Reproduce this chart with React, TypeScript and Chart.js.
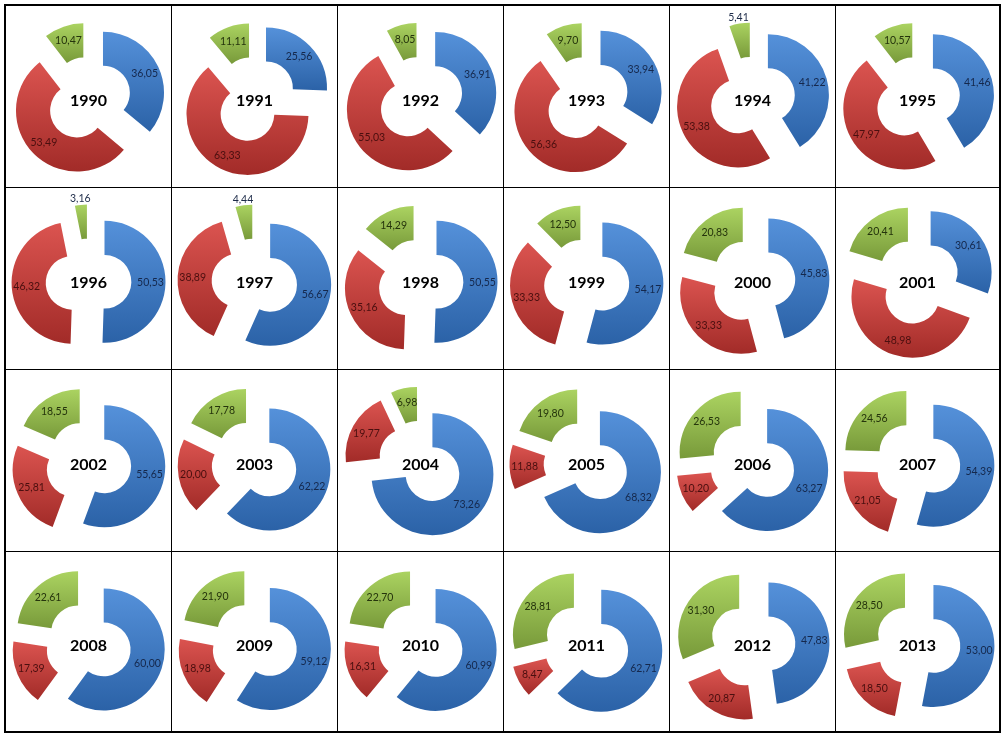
import React, { useEffect, useRef } from 'react';
import { Chart, registerables } from 'chart.js';

Chart.register(...registerables);

const years = [
  '1990', '1991', '1992', '1993', '1994', '1995',
  '1996', '1997', '1998', '1999', '2000', '2001',
  '2002', '2003', '2004', '2005', '2006', '2007',
  '2008', '2009', '2010', '2011', '2012', '2013',
];
const blueShare = [
  36.05, 25.56, 36.91, 33.94, 41.22, 41.46,
  50.53, 56.67, 50.55, 54.17, 45.83, 30.61,
  55.65, 62.22, 73.26, 68.32, 63.27, 54.39,
  60.0, 59.12, 60.99, 62.71, 47.83, 53.0,
];
const redShare = [
  53.49, 63.33, 55.03, 56.36, 53.38, 47.97,
  46.32, 38.89, 35.16, 33.33, 33.33, 48.98,
  25.81, 20.0, 19.77, 11.88, 10.2, 21.05,
  17.39, 18.98, 16.31, 8.47, 20.87, 18.5,
];
const greenShare = [
  10.47, 11.11, 8.05, 9.7, 5.41, 10.57,
  3.16, 4.44, 14.29, 12.5, 20.83, 20.41,
  18.55, 17.78, 6.98, 19.8, 26.53, 24.56,
  22.61, 21.9, 22.7, 28.81, 31.3, 28.5,
];

const COLS = 6;
const colWidths = [165, 165, 165, 165, 165, 163];
const rowHeights = [181, 181, 181, 179];

const EXPLODE = 16;
const OUTER_R = 61;

const palette = [
  { top: '#5591da', bottom: '#2b62a7', text: '#15284c' },
  { top: '#db5450', bottom: '#a22b28', text: '#4a0f0f' },
  { top: '#abd361', bottom: '#789a3a', text: '#25340c' },
];

const fmt = (v: number) => v.toFixed(2).replace('.', ',');

const explodePlugin = {
  id: 'explodeLabels',
  afterDatasetsUpdate(chart: any) {
    const meta = chart.getDatasetMeta(0);
    const ctx = chart.ctx;
    meta.data.forEach((arc: any, i: number) => {
      const mid = (arc.startAngle + arc.endAngle) / 2;
      arc.x += Math.cos(mid) * EXPLODE;
      arc.y += Math.sin(mid) * EXPLODE;
      let ymin = Infinity;
      let ymax = -Infinity;
      const steps = 60;
      for (let k = 0; k <= steps; k++) {
        const t = arc.startAngle + ((arc.endAngle - arc.startAngle) * k) / steps;
        for (const r of [arc.innerRadius, arc.outerRadius]) {
          const y = arc.y + Math.sin(t) * r;
          if (y < ymin) ymin = y;
          if (y > ymax) ymax = y;
        }
      }
      const g = ctx.createLinearGradient(0, ymin, 0, ymax);
      g.addColorStop(0, palette[i].top);
      g.addColorStop(1, palette[i].bottom);
      arc.options = { ...arc.options, backgroundColor: g };
    });
  },
  afterDatasetsDraw(chart: any) {
    const meta = chart.getDatasetMeta(0);
    const ctx = chart.ctx;
    const ds = chart.data.datasets[0];
    ctx.save();
    ctx.textAlign = 'center';
    ctx.textBaseline = 'middle';
    ctx.font = '10.5px Lato, "Open Sans", sans-serif';
    meta.data.forEach((arc: any, i: number) => {
      const v = ds.data[i] as number;
      const mid = (arc.startAngle + arc.endAngle) / 2;
      const small = v < 6;
      const r = small
        ? arc.outerRadius + 6
        : arc.innerRadius + 0.56 * (arc.outerRadius - arc.innerRadius);
      ctx.fillStyle = small ? '#1d2b48' : palette[i].text;
      ctx.fillText(fmt(v), arc.x + Math.cos(mid) * r, arc.y + Math.sin(mid) * r);
    });
    const ca = chart.chartArea;
    ctx.font = 'bold 16px Lato, "Open Sans", sans-serif';
    ctx.fillStyle = '#000000';
    ctx.fillText(ds.label, (ca.left + ca.right) / 2, (ca.top + ca.bottom) / 2 + 1);
    ctx.restore();
  },
};

function DonutCell({ index, width, height }: { index: number; width: number; height: number }) {
  const ref = useRef<HTMLCanvasElement | null>(null);
  useEffect(() => {
    if (!ref.current) return;
    const chart = new Chart(ref.current, {
      type: 'doughnut',
      data: {
        labels: ['Blue', 'Red', 'Green'],
        datasets: [
          {
            label: years[index],
            data: [blueShare[index], redShare[index], greenShare[index]],
            backgroundColor: palette.map((p) => p.top),
            borderWidth: 0,
          },
        ],
      },
      options: {
        responsive: false,
        maintainAspectRatio: false,
        animation: false,
        radius: OUTER_R,
        cutout: '44%',
        events: [],
        layout: { padding: { top: 6, bottom: 0, left: 0, right: 0 } },
        plugins: {
          legend: { display: false },
          tooltip: { enabled: false },
        },
      } as any,
      plugins: [explodePlugin as any],
    });
    return () => chart.destroy();
  }, [index]);
  return (
    <div style={{ background: '#ffffff', width, height, overflow: 'hidden' }}>
      <canvas ref={ref} width={width} height={height} style={{ display: 'block' }} />
    </div>
  );
}

export default function App() {
  return (
    <div
      style={{
        position: 'absolute',
        left: 4,
        top: 4,
        border: '2px solid #000',
        display: 'grid',
        gridTemplateColumns: colWidths.map((w) => w + 'px').join(' '),
        gridTemplateRows: rowHeights.map((h) => h + 'px').join(' '),
        gap: 1,
        background: '#000',
      }}
    >
      {years.map((y, i) => (
        <DonutCell
          key={y}
          index={i}
          width={colWidths[i % COLS]}
          height={rowHeights[Math.floor(i / COLS)]}
        />
      ))}
    </div>
  );
}
